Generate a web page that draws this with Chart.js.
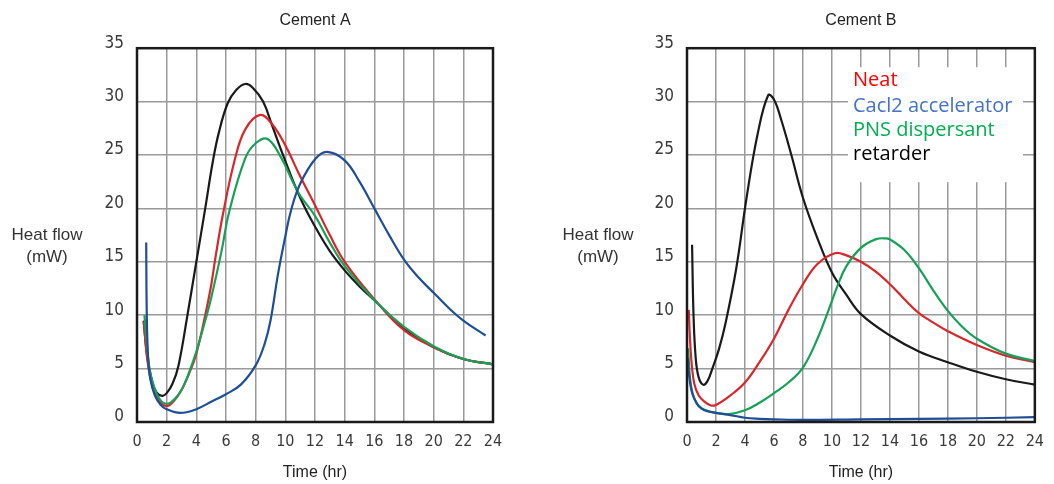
<!DOCTYPE html>
<html>
<head>
<meta charset="utf-8">
<script src="https://cdn.jsdelivr.net/npm/chart.js@4.4.1/dist/chart.umd.min.js"></script>
<style>
  body { margin: 0; background: #fff; }
  .panel { position: absolute; top: 0; width: 527px; height: 484px; }
  #panelA { left: 0; }
  #panelB { left: 527px; }
</style>
</head>
<body>
<div class="panel" id="panelA"><canvas id="chartA" width="527" height="484"></canvas></div>
<div class="panel" id="panelB"><canvas id="chartB" width="527" height="484"></canvas></div>
<script>
// legend (same meaning of colours in both panels)
const seriesNames = ['Neat', 'Cacl2 accelerator', 'PNS dispersant', 'retarder'];
const legendColors = ['#ff0000', '#4472c4', '#00b050', '#000000'];
const lineColors = { neat: '#d9262b', cacl2: '#1f4e96', pns: '#17a057', retarder: '#1a1a1a' };

// tick labels
const xTicks = [0, 2, 4, 6, 8, 10, 12, 14, 16, 18, 20, 22, 24];
const yTicks = [0, 5, 10, 15, 20, 25, 30, 35];

// ---- Cement A (time in hr, heat flow in mW) ----
const aNeatT = [0.45, 0.7, 1.0, 1.5, 2.0, 2.5, 3.0, 3.5, 4.0, 4.6, 5.0, 5.3, 5.8, 6.6, 7.3, 8.3, 9.1, 10, 11, 12, 13, 14, 16, 18, 20, 22, 24];
const aNeatV = [9.4, 5.8, 3.6, 2.0, 1.5, 2.0, 3.0, 4.5, 6.4, 10.0, 12.8, 15.5, 19.5, 24.6, 27.4, 28.75, 27.9, 25.9, 23.0, 20.3, 17.5, 15.0, 11.5, 8.6, 7.0, 5.9, 5.4];

const aCaclT = [0.62, 0.66, 0.75, 0.9, 1.2, 1.6, 2.0, 2.9, 4.0, 5.0, 6.0, 7.0, 8.0, 8.6, 9.0, 9.5, 10.0, 10.4, 11, 12, 12.8, 14, 15, 16, 17, 18, 19, 20, 21, 22, 23.5];
const aCaclV = [16.8, 10.0, 6.0, 4.0, 2.5, 1.6, 1.2, 0.85, 1.2, 1.9, 2.6, 3.5, 5.3, 7.3, 9.5, 13.8, 17.4, 19.9, 22.3, 24.6, 25.3, 24.5, 22.5, 20.0, 17.5, 15.2, 13.5, 12.1, 10.7, 9.5, 8.1];

const aPnsT = [0.5, 0.75, 1.0, 1.5, 2.0, 2.5, 3.0, 3.5, 4.0, 4.6, 5.0, 5.7, 6.2, 7.3, 8.0, 8.8, 9.7, 10.5, 11, 12, 13, 14, 16, 18, 20, 22, 24];
const aPnsV = [10.0, 6.0, 4.0, 2.2, 1.7, 2.1, 3.0, 4.6, 6.6, 9.5, 11.6, 16.0, 19.6, 24.7, 26.1, 26.5, 24.8, 22.5, 21.2, 19.3, 16.8, 14.6, 11.4, 8.9, 7.1, 5.9, 5.4];

const aRetT = [0.45, 0.7, 1.0, 1.3, 1.7, 2.0, 2.4, 2.8, 3.4, 4.0, 4.6, 5.1, 5.5, 6.1, 6.7, 7.3, 7.8, 8.5, 9.1, 9.9, 11, 12, 13, 14, 15, 16, 18, 20, 22, 24];
const aRetV = [9.5, 6.0, 3.9, 2.8, 2.45, 2.7, 3.6, 5.3, 10.0, 15.0, 20.0, 24.3, 27.0, 29.8, 31.1, 31.65, 31.3, 30.0, 27.8, 24.8, 21.0, 18.3, 16.0, 14.2, 12.7, 11.4, 8.8, 7.0, 5.9, 5.4];

// ---- Cement B ----
const bNeatT = [0.12, 0.2, 0.3, 0.5, 0.8, 1.2, 1.65, 2.0, 3.0, 4.0, 5.0, 6.0, 7.0, 8.0, 9.0, 10.2, 11, 12, 13, 14, 15, 16, 17, 18, 20, 22, 24];
const bNeatV = [10.5, 8.0, 5.8, 3.6, 2.5, 1.9, 1.55, 1.6, 2.5, 3.7, 5.6, 7.8, 10.5, 12.9, 14.8, 15.8, 15.6, 15.0, 14.1, 12.9, 11.5, 10.2, 9.3, 8.5, 7.2, 6.2, 5.6];

const bCaclT = [0.05, 0.15, 0.3, 0.5, 0.8, 1.2, 2.0, 3.0, 4.0, 5.0, 6.0, 8, 12, 16, 20, 24];
const bCaclV = [6.0, 4.3, 3.0, 2.2, 1.5, 1.1, 0.85, 0.65, 0.4, 0.3, 0.25, 0.2, 0.25, 0.3, 0.35, 0.45];

const bPnsT = [0.08, 0.2, 0.4, 0.7, 1.0, 1.4, 2.0, 2.9, 4.0, 5.0, 6.0, 7.0, 8.0, 9.0, 9.8, 10.4, 11, 12, 13, 13.7, 14, 15, 16, 17, 18, 19, 20, 22, 24];
const bPnsV = [6.9, 4.2, 2.6, 1.7, 1.3, 1.05, 0.85, 0.75, 1.1, 1.8, 2.7, 3.7, 5.1, 7.8, 10.6, 12.8, 14.6, 16.3, 17.1, 17.2, 17.1, 16.1, 14.4, 12.3, 10.4, 8.9, 7.8, 6.4, 5.7];

const bRetT = [0.35, 0.45, 0.6, 0.8, 1.1, 1.4, 1.75, 2.2, 2.65, 3.4, 4.1, 4.85, 5.6, 6.0, 6.5, 7.2, 8.0, 9.0, 10.0, 11, 12, 14, 16, 18, 20, 22, 24];
const bRetV = [16.6, 10.0, 6.0, 4.2, 3.5, 3.8, 5.0, 6.8, 9.2, 14.4, 20.9, 26.8, 30.6, 30.2, 28.3, 25.0, 21.0, 17.2, 14.0, 11.9, 10.1, 8.1, 6.6, 5.6, 4.7, 4.0, 3.5];

const tickFont = "'Liberation Sans Narrow', 'DejaVu Sans Condensed', 'Liberation Sans', sans-serif";
const textFont = "'Liberation Sans', Arial, sans-serif";

function line(t, v, color) {
  return {
    data: t.map((x, i) => ({ x: x, y: v[i] })),
    borderColor: color,
    borderWidth: 2.2,
    pointRadius: 0,
    fill: false,
    tension: 0.4
  };
}

// frame, two-line y title and (for cement B) the pasted-in legend box
const extrasPlugin = {
  id: 'extras',
  afterDatasetsDraw(chart, args, opts) {
    if (!opts.legend) return;
    const { ctx, chartArea: a } = chart;
    ctx.save();
    ctx.fillStyle = '#fff';
    ctx.fillRect(a.left + 161, a.top + 19, 175, 115);
    ctx.font = "20px 'Open Sans', sans-serif";
    ctx.textAlign = 'left';
    ctx.textBaseline = 'alphabetic';
    const baselines = [38, 64, 88, 112];
    seriesNames.forEach((name, i) => {
      ctx.fillStyle = legendColors[i];
      ctx.fillText(name, a.left + 166, a.top + baselines[i]);
    });
    ctx.restore();
  },
  afterDraw(chart, args, opts) {
    const { ctx, chartArea: a } = chart;
    ctx.save();
    ctx.strokeStyle = '#1a1a1a';
    ctx.lineWidth = 2.5;
    ctx.strokeRect(a.left, a.top, a.right - a.left, a.bottom - a.top);
    ctx.fillStyle = '#333';
    ctx.font = '17px ' + textFont;
    ctx.textAlign = 'center';
    ctx.textBaseline = 'middle';
    ctx.fillText('Heat flow', opts.titleX, 235);
    ctx.fillText('(mW)', opts.titleX, 257);
    ctx.restore();
  }
};

function makeChart(id, title, datasets, yWidth, padRight, extras) {
  return new Chart(document.getElementById(id), {
    type: 'line',
    data: { datasets: datasets },
    options: {
      responsive: false,
      animation: false,
      layout: { padding: { left: 0, right: padRight, top: 0, bottom: 0 } },
      plugins: {
        legend: { display: false },
        tooltip: { enabled: false },
        title: {
          display: true, text: title, fullSize: false, color: '#222',
          font: { family: textFont, size: 16, weight: 'normal' },
          padding: { top: 11, bottom: 18 }
        },
        extras: extras
      },
      scales: {
        x: {
          type: 'linear', min: 0, max: 24,
          afterBuildTicks: s => { s.ticks = xTicks.map(v => ({ value: v })); },
          afterFit: s => { s.height = 62; },
          grid: { color: '#9a9a9a', lineWidth: 1.5, drawTicks: false },
          border: { display: false },
          ticks: { color: '#3a3a3a', font: { family: tickFont, size: 16 }, padding: 10, maxRotation: 0, autoSkip: false },
          title: { display: true, text: 'Time (hr)', color: '#222', font: { family: textFont, size: 16 }, padding: { top: 0, bottom: 2 } }
        },
        y: {
          type: 'linear', min: 0, max: 35,
          afterBuildTicks: s => { s.ticks = yTicks.map(v => ({ value: v })); },
          afterFit: s => { s.width = yWidth; },
          grid: { color: '#9a9a9a', lineWidth: 1.5, drawTicks: false },
          border: { display: false },
          ticks: { color: '#3a3a3a', font: { family: tickFont, size: 17 }, padding: 13, labelOffset: -5 }
        }
      }
    },
    plugins: [extrasPlugin]
  });
}

// dataset 0 is drawn on top
makeChart('chartA', 'Cement A', [
  line(aCaclT, aCaclV, lineColors.cacl2),
  line(aPnsT, aPnsV, lineColors.pns),
  line(aNeatT, aNeatV, lineColors.neat),
  line(aRetT, aRetV, lineColors.retarder)
], 137, 34, { titleX: 47, legend: false });

makeChart('chartB', 'Cement B', [
  line(bCaclT, bCaclV, lineColors.cacl2),
  line(bPnsT, bPnsV, lineColors.pns),
  line(bNeatT, bNeatV, lineColors.neat),
  line(bRetT, bRetV, lineColors.retarder)
], 160, 12, { titleX: 71, legend: true });
</script>
</body>
</html>
